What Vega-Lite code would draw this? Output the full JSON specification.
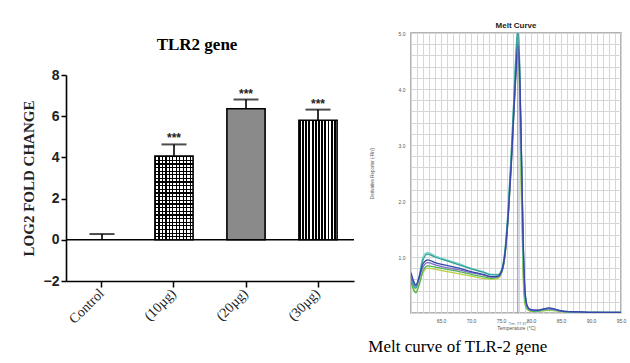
{
"$schema":"https://vega.github.io/schema/vega-lite/v6.json",
"background":"white",
"padding":{"left":21,"top":21,"right":0,"bottom":0},
"spacing":13,
"config":{"view":{"stroke":null},"axis":{"labelOverlap":false}},
"datasets":{
"bars":[{"group":"Control","value":0,"hi":0.28,"stars":""},{"group":"(10µg)","value":4.07,"hi":4.63,"stars":"***"},{"group":"(20µg)","value":6.36,"hi":6.81,"stars":"***"},{"group":"(30µg)","value":5.8,"hi":6.32,"stars":"***"}],
"melt":[
{"s":"y","t":60.0,"d":0.58},{"s":"y","t":60.4,"d":0.45},{"s":"y","t":60.8,"d":0.38},{"s":"y","t":61.3,"d":0.50},{"s":"y","t":62.0,"d":0.72},{"s":"y","t":62.8,"d":0.80},{"s":"y","t":64.0,"d":0.78},{"s":"y","t":66.0,"d":0.74},{"s":"y","t":68.0,"d":0.70},{"s":"y","t":70.0,"d":0.66},{"s":"y","t":72.0,"d":0.62},{"s":"y","t":73.5,"d":0.60},{"s":"y","t":74.5,"d":0.62},{"s":"y","t":75.2,"d":0.74},{"s":"y","t":75.7,"d":1.05},{"s":"y","t":76.2,"d":1.70},{"s":"y","t":76.7,"d":2.60},{"s":"y","t":77.1,"d":3.50},{"s":"y","t":77.5,"d":4.40},{"s":"y","t":77.8,"d":4.85},{"s":"y","t":78.1,"d":3.90},{"s":"y","t":78.4,"d":2.00},{"s":"y","t":78.7,"d":0.60},{"s":"y","t":79.0,"d":0.15},{"s":"y","t":79.4,"d":0.06},{"s":"y","t":80.0,"d":0.03},{"s":"y","t":81.0,"d":0.03},{"s":"y","t":82.0,"d":0.04},{"s":"y","t":83.0,"d":0.05},{"s":"y","t":84.0,"d":0.04},{"s":"y","t":85.5,"d":0.02},{"s":"y","t":88.0,"d":0.01},{"s":"y","t":91.0,"d":0.01},{"s":"y","t":95.0,"d":0.00},
{"s":"g","t":60.0,"d":0.55},{"s":"g","t":60.4,"d":0.42},{"s":"g","t":60.8,"d":0.36},{"s":"g","t":61.3,"d":0.48},{"s":"g","t":62.0,"d":0.75},{"s":"g","t":62.8,"d":0.84},{"s":"g","t":64.0,"d":0.82},{"s":"g","t":66.0,"d":0.78},{"s":"g","t":68.0,"d":0.74},{"s":"g","t":70.0,"d":0.69},{"s":"g","t":72.0,"d":0.65},{"s":"g","t":73.5,"d":0.62},{"s":"g","t":74.5,"d":0.64},{"s":"g","t":75.2,"d":0.76},{"s":"g","t":75.7,"d":1.08},{"s":"g","t":76.2,"d":1.75},{"s":"g","t":76.7,"d":2.70},{"s":"g","t":77.1,"d":3.60},{"s":"g","t":77.5,"d":4.50},{"s":"g","t":77.8,"d":4.95},{"s":"g","t":78.1,"d":4.10},{"s":"g","t":78.4,"d":2.30},{"s":"g","t":78.7,"d":0.80},{"s":"g","t":79.0,"d":0.20},{"s":"g","t":79.4,"d":0.07},{"s":"g","t":80.0,"d":0.04},{"s":"g","t":81.0,"d":0.03},{"s":"g","t":82.0,"d":0.05},{"s":"g","t":83.0,"d":0.06},{"s":"g","t":84.0,"d":0.05},{"s":"g","t":85.5,"d":0.02},{"s":"g","t":88.0,"d":0.01},{"s":"g","t":91.0,"d":0.01},{"s":"g","t":95.0,"d":0.00},
{"s":"c","t":60.0,"d":0.66},{"s":"c","t":60.4,"d":0.52},{"s":"c","t":60.8,"d":0.46},{"s":"c","t":61.3,"d":0.64},{"s":"c","t":62.0,"d":1.00},{"s":"c","t":62.8,"d":1.08},{"s":"c","t":64.0,"d":1.02},{"s":"c","t":66.0,"d":0.95},{"s":"c","t":68.0,"d":0.88},{"s":"c","t":70.0,"d":0.80},{"s":"c","t":72.0,"d":0.74},{"s":"c","t":73.5,"d":0.69},{"s":"c","t":74.5,"d":0.69},{"s":"c","t":75.2,"d":0.82},{"s":"c","t":75.7,"d":1.18},{"s":"c","t":76.2,"d":1.90},{"s":"c","t":76.7,"d":2.85},{"s":"c","t":77.1,"d":3.75},{"s":"c","t":77.5,"d":4.70},{"s":"c","t":77.8,"d":5.10},{"s":"c","t":78.1,"d":4.40},{"s":"c","t":78.4,"d":2.60},{"s":"c","t":78.7,"d":1.00},{"s":"c","t":79.0,"d":0.28},{"s":"c","t":79.4,"d":0.09},{"s":"c","t":80.0,"d":0.05},{"s":"c","t":81.0,"d":0.04},{"s":"c","t":82.0,"d":0.06},{"s":"c","t":83.0,"d":0.07},{"s":"c","t":84.0,"d":0.05},{"s":"c","t":85.5,"d":0.03},{"s":"c","t":88.0,"d":0.02},{"s":"c","t":91.0,"d":0.01},{"s":"c","t":95.0,"d":0.01},
{"s":"te","t":60.0,"d":0.62},{"s":"te","t":60.4,"d":0.50},{"s":"te","t":60.8,"d":0.44},{"s":"te","t":61.3,"d":0.60},{"s":"te","t":62.0,"d":0.95},{"s":"te","t":62.8,"d":1.05},{"s":"te","t":64.0,"d":1.00},{"s":"te","t":66.0,"d":0.93},{"s":"te","t":68.0,"d":0.86},{"s":"te","t":70.0,"d":0.79},{"s":"te","t":72.0,"d":0.73},{"s":"te","t":73.5,"d":0.68},{"s":"te","t":74.5,"d":0.68},{"s":"te","t":75.2,"d":0.80},{"s":"te","t":75.7,"d":1.15},{"s":"te","t":76.2,"d":1.85},{"s":"te","t":76.7,"d":2.80},{"s":"te","t":77.1,"d":3.70},{"s":"te","t":77.5,"d":4.60},{"s":"te","t":77.8,"d":5.05},{"s":"te","t":78.1,"d":4.50},{"s":"te","t":78.4,"d":2.90},{"s":"te","t":78.7,"d":1.20},{"s":"te","t":79.0,"d":0.35},{"s":"te","t":79.4,"d":0.10},{"s":"te","t":80.0,"d":0.05},{"s":"te","t":81.0,"d":0.04},{"s":"te","t":82.0,"d":0.06},{"s":"te","t":83.0,"d":0.08},{"s":"te","t":84.0,"d":0.06},{"s":"te","t":85.5,"d":0.03},{"s":"te","t":88.0,"d":0.02},{"s":"te","t":91.0,"d":0.01},{"s":"te","t":95.0,"d":0.01},
{"s":"p","t":60.0,"d":0.68},{"s":"p","t":60.4,"d":0.55},{"s":"p","t":60.8,"d":0.48},{"s":"p","t":61.3,"d":0.60},{"s":"p","t":62.0,"d":0.82},{"s":"p","t":62.8,"d":0.90},{"s":"p","t":64.0,"d":0.86},{"s":"p","t":66.0,"d":0.81},{"s":"p","t":68.0,"d":0.77},{"s":"p","t":70.0,"d":0.72},{"s":"p","t":72.0,"d":0.68},{"s":"p","t":73.5,"d":0.64},{"s":"p","t":74.5,"d":0.65},{"s":"p","t":75.2,"d":0.76},{"s":"p","t":75.7,"d":1.05},{"s":"p","t":76.2,"d":1.70},{"s":"p","t":76.7,"d":2.60},{"s":"p","t":77.1,"d":3.45},{"s":"p","t":77.5,"d":4.25},{"s":"p","t":77.8,"d":4.65},{"s":"p","t":78.1,"d":4.20},{"s":"p","t":78.4,"d":2.80},{"s":"p","t":78.7,"d":1.25},{"s":"p","t":79.0,"d":0.38},{"s":"p","t":79.4,"d":0.11},{"s":"p","t":80.0,"d":0.05},{"s":"p","t":81.0,"d":0.05},{"s":"p","t":82.0,"d":0.07},{"s":"p","t":83.0,"d":0.08},{"s":"p","t":84.0,"d":0.06},{"s":"p","t":85.5,"d":0.03},{"s":"p","t":88.0,"d":0.02},{"s":"p","t":91.0,"d":0.01},{"s":"p","t":95.0,"d":0.01},
{"s":"b","t":60.0,"d":0.72},{"s":"b","t":60.4,"d":0.58},{"s":"b","t":60.8,"d":0.50},{"s":"b","t":61.3,"d":0.62},{"s":"b","t":62.0,"d":0.88},{"s":"b","t":62.8,"d":0.95},{"s":"b","t":64.0,"d":0.90},{"s":"b","t":66.0,"d":0.85},{"s":"b","t":68.0,"d":0.80},{"s":"b","t":70.0,"d":0.74},{"s":"b","t":72.0,"d":0.69},{"s":"b","t":73.5,"d":0.65},{"s":"b","t":74.5,"d":0.66},{"s":"b","t":75.2,"d":0.78},{"s":"b","t":75.7,"d":1.10},{"s":"b","t":76.2,"d":1.75},{"s":"b","t":76.7,"d":2.65},{"s":"b","t":77.1,"d":3.50},{"s":"b","t":77.5,"d":4.35},{"s":"b","t":77.8,"d":4.80},{"s":"b","t":78.1,"d":4.35},{"s":"b","t":78.4,"d":2.90},{"s":"b","t":78.7,"d":1.30},{"s":"b","t":79.0,"d":0.40},{"s":"b","t":79.4,"d":0.12},{"s":"b","t":80.0,"d":0.06},{"s":"b","t":81.0,"d":0.05},{"s":"b","t":82.0,"d":0.07},{"s":"b","t":83.0,"d":0.09},{"s":"b","t":84.0,"d":0.07},{"s":"b","t":85.5,"d":0.03},{"s":"b","t":88.0,"d":0.02},{"s":"b","t":91.0,"d":0.01},{"s":"b","t":95.0,"d":0.01}
]
},
"hconcat":[
{
"spacing":0,
"vconcat":[
{"width":288,"height":3,"data":{"values":[]},"mark":{"type":"rule"},"encoding":{}},
{
"width":288,"height":206,
"title":{"text":"TLR2 gene","font":"Liberation Serif","fontSize":17,"fontWeight":"bold","color":"black","offset":14,"dx":-13},
"data":{"name":"bars"},
"layer":[
{"mark":{"type":"rule","color":"black","strokeWidth":1.6},
 "encoding":{
  "x":{"field":"group","type":"nominal","sort":["Control","(10µg)","(20µg)","(30µg)"],"scale":{"paddingInner":0.47,"paddingOuter":0.235},"axis":{"title":null,"labelAngle":-45,"labelAlign":"right","labelBaseline":"middle","labelFont":"Liberation Serif","labelFontSize":14,"labelColor":"#222","labelPadding":4,"tickSize":6,"tickColor":"black","tickWidth":1.5,"domainColor":"black","domainWidth":1.6}},
  "y":{"field":"value","type":"quantitative","scale":{"domain":[-2,8],"nice":false},"axis":{"title":"LOG2 FOLD CHANGE","titleFont":"Liberation Serif","titleFontSize":15,"titleFontWeight":"bold","titleColor":"#222","titlePadding":7,"values":[-2,0,2,4,6,8],"grid":false,"labelFont":"Liberation Sans","labelFontWeight":"bold","labelFontSize":14,"labelColor":"#222","labelPadding":2,"tickSize":5,"tickColor":"black","tickWidth":1.5,"domainColor":"black","domainWidth":1.6}},
  "y2":{"field":"hi"}}},
{"mark":{"type":"tick","color":"black","thickness":2,"size":25},
 "encoding":{"x":{"field":"group","type":"nominal","sort":["Control","(10µg)","(20µg)","(30µg)"],"axis":{"title":null}},"y":{"field":"hi","type":"quantitative"}}},
{"transform":[{"filter":"datum.group === '(10µg)'"}],
 "mark":{"type":"bar","fill":{"gradient":"linear","x1":0,"y1":0,"x2":1,"y2":0,"stops":[
{"offset":0,"color":"black"},{"offset":0.0318,"color":"black"},{"offset":0.0318,"color":"white"},{"offset":0.0909,"color":"white"},
{"offset":0.0909,"color":"black"},{"offset":0.1227,"color":"black"},{"offset":0.1227,"color":"white"},{"offset":0.1818,"color":"white"},
{"offset":0.1818,"color":"black"},{"offset":0.2136,"color":"black"},{"offset":0.2136,"color":"white"},{"offset":0.2727,"color":"white"},
{"offset":0.2727,"color":"black"},{"offset":0.3045,"color":"black"},{"offset":0.3045,"color":"white"},{"offset":0.3636,"color":"white"},
{"offset":0.3636,"color":"black"},{"offset":0.3955,"color":"black"},{"offset":0.3955,"color":"white"},{"offset":0.4545,"color":"white"},
{"offset":0.4545,"color":"black"},{"offset":0.4864,"color":"black"},{"offset":0.4864,"color":"white"},{"offset":0.5455,"color":"white"},
{"offset":0.5455,"color":"black"},{"offset":0.5773,"color":"black"},{"offset":0.5773,"color":"white"},{"offset":0.6364,"color":"white"},
{"offset":0.6364,"color":"black"},{"offset":0.6682,"color":"black"},{"offset":0.6682,"color":"white"},{"offset":0.7273,"color":"white"},
{"offset":0.7273,"color":"black"},{"offset":0.7591,"color":"black"},{"offset":0.7591,"color":"white"},{"offset":0.8182,"color":"white"},
{"offset":0.8182,"color":"black"},{"offset":0.85,"color":"black"},{"offset":0.85,"color":"white"},{"offset":0.9091,"color":"white"},
{"offset":0.9091,"color":"black"},{"offset":0.9409,"color":"black"},{"offset":0.9409,"color":"white"},{"offset":1,"color":"white"}]}},
 "encoding":{"x":{"field":"group","type":"nominal","sort":["Control","(10µg)","(20µg)","(30µg)"],"axis":{"title":null}},"y":{"field":"value","type":"quantitative"}}},
{"transform":[{"filter":"datum.group === '(10µg)'"}],
 "mark":{"type":"bar","fill":{"gradient":"linear","x1":0,"y1":0,"x2":0,"y2":1,"stops":[
{"offset":0,"color":"black"},{"offset":0.0152,"color":"black"},{"offset":0.0152,"color":"rgba(0,0,0,0)"},{"offset":0.0435,"color":"rgba(0,0,0,0)"},
{"offset":0.0435,"color":"black"},{"offset":0.0587,"color":"black"},{"offset":0.0587,"color":"rgba(0,0,0,0)"},{"offset":0.087,"color":"rgba(0,0,0,0)"},
{"offset":0.087,"color":"black"},{"offset":0.1022,"color":"black"},{"offset":0.1022,"color":"rgba(0,0,0,0)"},{"offset":0.1304,"color":"rgba(0,0,0,0)"},
{"offset":0.1304,"color":"black"},{"offset":0.1456,"color":"black"},{"offset":0.1456,"color":"rgba(0,0,0,0)"},{"offset":0.1739,"color":"rgba(0,0,0,0)"},
{"offset":0.1739,"color":"black"},{"offset":0.1891,"color":"black"},{"offset":0.1891,"color":"rgba(0,0,0,0)"},{"offset":0.2174,"color":"rgba(0,0,0,0)"},
{"offset":0.2174,"color":"black"},{"offset":0.2326,"color":"black"},{"offset":0.2326,"color":"rgba(0,0,0,0)"},{"offset":0.2609,"color":"rgba(0,0,0,0)"},
{"offset":0.2609,"color":"black"},{"offset":0.2761,"color":"black"},{"offset":0.2761,"color":"rgba(0,0,0,0)"},{"offset":0.3043,"color":"rgba(0,0,0,0)"},
{"offset":0.3043,"color":"black"},{"offset":0.3195,"color":"black"},{"offset":0.3195,"color":"rgba(0,0,0,0)"},{"offset":0.3478,"color":"rgba(0,0,0,0)"},
{"offset":0.3478,"color":"black"},{"offset":0.363,"color":"black"},{"offset":0.363,"color":"rgba(0,0,0,0)"},{"offset":0.3913,"color":"rgba(0,0,0,0)"},
{"offset":0.3913,"color":"black"},{"offset":0.4065,"color":"black"},{"offset":0.4065,"color":"rgba(0,0,0,0)"},{"offset":0.4348,"color":"rgba(0,0,0,0)"},
{"offset":0.4348,"color":"black"},{"offset":0.45,"color":"black"},{"offset":0.45,"color":"rgba(0,0,0,0)"},{"offset":0.4783,"color":"rgba(0,0,0,0)"},
{"offset":0.4783,"color":"black"},{"offset":0.4935,"color":"black"},{"offset":0.4935,"color":"rgba(0,0,0,0)"},{"offset":0.5217,"color":"rgba(0,0,0,0)"},
{"offset":0.5217,"color":"black"},{"offset":0.5369,"color":"black"},{"offset":0.5369,"color":"rgba(0,0,0,0)"},{"offset":0.5652,"color":"rgba(0,0,0,0)"},
{"offset":0.5652,"color":"black"},{"offset":0.5804,"color":"black"},{"offset":0.5804,"color":"rgba(0,0,0,0)"},{"offset":0.6087,"color":"rgba(0,0,0,0)"},
{"offset":0.6087,"color":"black"},{"offset":0.6239,"color":"black"},{"offset":0.6239,"color":"rgba(0,0,0,0)"},{"offset":0.6522,"color":"rgba(0,0,0,0)"},
{"offset":0.6522,"color":"black"},{"offset":0.6674,"color":"black"},{"offset":0.6674,"color":"rgba(0,0,0,0)"},{"offset":0.6957,"color":"rgba(0,0,0,0)"},
{"offset":0.6957,"color":"black"},{"offset":0.7109,"color":"black"},{"offset":0.7109,"color":"rgba(0,0,0,0)"},{"offset":0.7391,"color":"rgba(0,0,0,0)"},
{"offset":0.7391,"color":"black"},{"offset":0.7543,"color":"black"},{"offset":0.7543,"color":"rgba(0,0,0,0)"},{"offset":0.7826,"color":"rgba(0,0,0,0)"},
{"offset":0.7826,"color":"black"},{"offset":0.7978,"color":"black"},{"offset":0.7978,"color":"rgba(0,0,0,0)"},{"offset":0.8261,"color":"rgba(0,0,0,0)"},
{"offset":0.8261,"color":"black"},{"offset":0.8413,"color":"black"},{"offset":0.8413,"color":"rgba(0,0,0,0)"},{"offset":0.8696,"color":"rgba(0,0,0,0)"},
{"offset":0.8696,"color":"black"},{"offset":0.8848,"color":"black"},{"offset":0.8848,"color":"rgba(0,0,0,0)"},{"offset":0.913,"color":"rgba(0,0,0,0)"},
{"offset":0.913,"color":"black"},{"offset":0.9282,"color":"black"},{"offset":0.9282,"color":"rgba(0,0,0,0)"},{"offset":0.9565,"color":"rgba(0,0,0,0)"},
{"offset":0.9565,"color":"black"},{"offset":0.9717,"color":"black"},{"offset":0.9717,"color":"rgba(0,0,0,0)"},{"offset":1,"color":"rgba(0,0,0,0)"}]}},
 "encoding":{"x":{"field":"group","type":"nominal","sort":["Control","(10µg)","(20µg)","(30µg)"],"axis":{"title":null}},"y":{"field":"value","type":"quantitative"}}},
{"transform":[{"filter":"datum.group === '(20µg)'"}],
 "mark":{"type":"bar","fill":"#8a8a8a"},
 "encoding":{"x":{"field":"group","type":"nominal","sort":["Control","(10µg)","(20µg)","(30µg)"],"axis":{"title":null}},"y":{"field":"value","type":"quantitative"}}},
{"transform":[{"filter":"datum.group === '(30µg)'"}],
 "mark":{"type":"bar","fill":{"gradient":"linear","x1":0,"y1":0,"x2":1,"y2":0,"stops":[
{"offset":0,"color":"black"},{"offset":0.05,"color":"black"},{"offset":0.05,"color":"white"},{"offset":0.0833,"color":"white"},
{"offset":0.0833,"color":"black"},{"offset":0.1333,"color":"black"},{"offset":0.1333,"color":"white"},{"offset":0.1667,"color":"white"},
{"offset":0.1667,"color":"black"},{"offset":0.2167,"color":"black"},{"offset":0.2167,"color":"white"},{"offset":0.25,"color":"white"},
{"offset":0.25,"color":"black"},{"offset":0.3,"color":"black"},{"offset":0.3,"color":"white"},{"offset":0.3333,"color":"white"},
{"offset":0.3333,"color":"black"},{"offset":0.3833,"color":"black"},{"offset":0.3833,"color":"white"},{"offset":0.4167,"color":"white"},
{"offset":0.4167,"color":"black"},{"offset":0.4667,"color":"black"},{"offset":0.4667,"color":"white"},{"offset":0.5,"color":"white"},
{"offset":0.5,"color":"black"},{"offset":0.55,"color":"black"},{"offset":0.55,"color":"white"},{"offset":0.5833,"color":"white"},
{"offset":0.5833,"color":"black"},{"offset":0.6333,"color":"black"},{"offset":0.6333,"color":"white"},{"offset":0.6667,"color":"white"},
{"offset":0.6667,"color":"black"},{"offset":0.7167,"color":"black"},{"offset":0.7167,"color":"white"},{"offset":0.75,"color":"white"},
{"offset":0.75,"color":"black"},{"offset":0.8,"color":"black"},{"offset":0.8,"color":"white"},{"offset":0.8333,"color":"white"},
{"offset":0.8333,"color":"black"},{"offset":0.8833,"color":"black"},{"offset":0.8833,"color":"white"},{"offset":0.9167,"color":"white"},
{"offset":0.9167,"color":"black"},{"offset":0.9667,"color":"black"},{"offset":0.9667,"color":"white"},{"offset":1,"color":"white"}]}},
 "encoding":{"x":{"field":"group","type":"nominal","sort":["Control","(10µg)","(20µg)","(30µg)"],"axis":{"title":null}},"y":{"field":"value","type":"quantitative"}}},
{"transform":[{"filter":"datum.value > 0"}],
 "mark":{"type":"bar","fill":"transparent","stroke":"black","strokeWidth":1.6},
 "encoding":{"x":{"field":"group","type":"nominal","sort":["Control","(10µg)","(20µg)","(30µg)"],"axis":{"title":null}},"y":{"field":"value","type":"quantitative"}}},
{"data":{"values":[{}]},
 "mark":{"type":"rule","color":"black","strokeWidth":1.6},
 "encoding":{"y":{"datum":0,"type":"quantitative"}}},
{"mark":{"type":"text","font":"Liberation Sans","fontWeight":"bold","fontSize":12,"baseline":"alphabetic","dy":-2,"color":"#222"},
 "encoding":{"x":{"field":"group","type":"nominal","sort":["Control","(10µg)","(20µg)","(30µg)"],"axis":{"title":null}},"y":{"field":"hi","type":"quantitative"},"text":{"field":"stars"}}}
]
}
]
},
{
"title":{"text":"Melt curve of TLR-2 gene","orient":"bottom","font":"Liberation Serif","fontSize":17,"fontWeight":"normal","color":"black","offset":8},
"vconcat":[
{
"width":210,"height":280,
"view":{"stroke":"#9a9a9a","strokeWidth":1.5},
"title":{"text":"Melt Curve","font":"Liberation Sans","fontSize":8,"fontWeight":"bold","color":"#222","offset":1},
"encoding":{
  "x":{"field":"t","type":"quantitative","scale":{"domain":[60,95],"nice":false,"zero":false},"axis":{"values":[60,61,62,63,64,65,66,67,68,69,70,71,72,73,74,75,76,77,78,79,80,81,82,83,84,85,86,87,88,89,90,91,92,93,94,95],"labelExpr":"datum.value % 5 === 0 && datum.value > 60 ? format(datum.value, '.1f') : ''","labelOverlap":false,"labelFlush":false,"grid":true,"gridColor":"#d6d6d6","ticks":false,"domain":false,"labelFont":"Liberation Sans","labelFontSize":5,"labelColor":"#555","labelPadding":5,"title":"Temperature (°C)","titleFont":"Liberation Sans","titleFontSize":5,"titleFontWeight":"normal","titleColor":"#555","titlePadding":2}},
  "y":{"field":"d","type":"quantitative","scale":{"domain":[0,5],"nice":false},"axis":{"values":[0,0.2,0.4,0.6,0.8,1,1.2,1.4,1.6,1.8,2,2.2,2.4,2.6,2.8,3,3.2,3.4,3.6,3.8,4,4.2,4.4,4.6,4.8,5],"labelExpr":"datum.value % 1 === 0 && datum.value > 0 ? format(datum.value, '.1f') : ''","labelOverlap":false,"labelFlush":false,"grid":true,"gridColor":"#d6d6d6","ticks":false,"domain":false,"labelFont":"Liberation Sans","labelFontSize":5,"labelColor":"#555","labelPadding":6,"title":"Derivative Reporter (-Rn')","titleFont":"Liberation Sans","titleFontSize":4.5,"titleFontWeight":"normal","titleColor":"#555","titlePadding":24}}
},
"layer":[
{"data":{"name":"melt"},
 "mark":{"type":"line","interpolate":"monotone","strokeWidth":1.3,"clip":true},
 "encoding":{
  "color":{"field":"s","type":"nominal","scale":{"domain":["y","g","c","te","p","b"],"range":["#b8cf40","#52b35a","#74d4c6","#2f9e9a","#7b6cc8","#3546a8"]},"legend":null}}},
{"data":{"values":[{"t":77.8,"d":0,"d2":5}]},
 "mark":{"type":"rule","color":"#8a86b0","strokeWidth":1},
 "encoding":{"y2":{"field":"d2"}}},
{"data":{"values":[{"t":77.8,"d":0,"label":"Tm: 77.37"}]},
 "mark":{"type":"text","fontSize":4,"color":"#666","baseline":"top","dy":9},
 "encoding":{"text":{"field":"label"}}}
]
}
]
}
]
}
